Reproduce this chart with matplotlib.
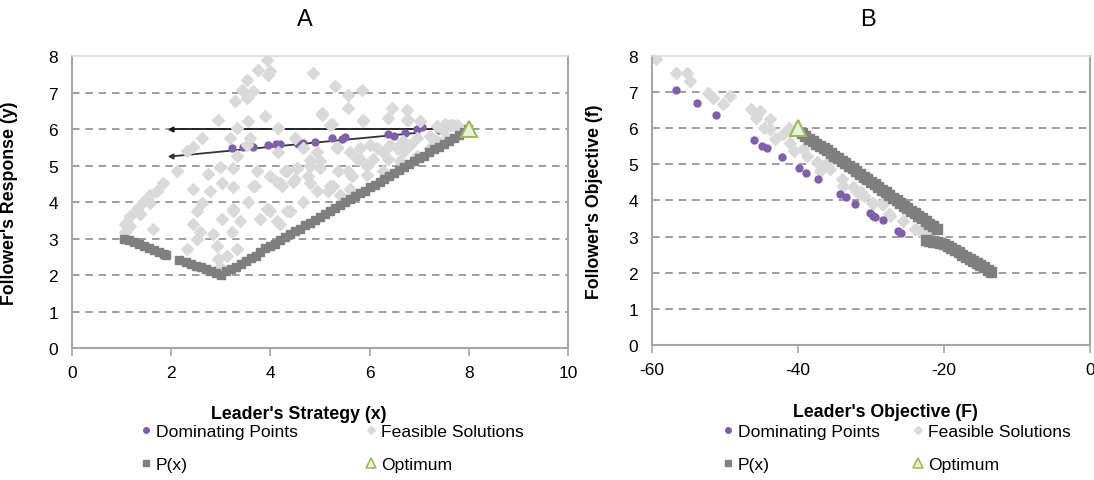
import matplotlib
matplotlib.use("Agg")
import matplotlib.pyplot as plt
from matplotlib.lines import Line2D

plt.rcParams['font.family'] = ['Liberation Sans', 'DejaVu Sans']
plt.rcParams['axes.unicode_minus'] = False

# ---------------- Panel A data ----------------
a_feas_x = [3.93, 3.99, 3.75, 3.53, 3.95, 3.43, 3.65, 3.29, 3.53, 3.89, 2.94, 3.55, 3.33, 4.15, 3.19,
            2.62, 2.44, 2.32, 3.59, 4.50, 3.33, 3.53, 4.15, 2.12, 2.98, 2.74, 3.25, 3.73, 4.29, 1.83,
            1.71, 1.57, 1.43, 1.31, 1.17, 1.07, 2.44, 2.78, 3.02, 3.25, 3.65, 4.13, 2.62, 3.02, 3.25,
            3.39, 3.55, 3.93, 4.33, 1.63, 2.58, 1.57, 1.37, 1.17, 1.07, 2.52, 3.25, 2.44, 2.84, 2.52,
            2.92, 3.23, 3.33, 3.13, 2.94, 2.32, 2.98, 3.99, 4.13, 4.19, 4.40,
            4.86, 5.30, 5.56, 5.85, 5.56, 5.04, 6.45, 6.75, 5.24, 5.87, 6.37, 7.02, 6.77, 7.52, 7.68,
            4.66, 4.94, 4.80, 5.34, 5.81, 6.01, 5.75, 6.07, 6.27, 6.55, 6.81, 6.61, 6.96, 7.22, 7.36,
            7.56, 4.54, 5.00, 5.56, 5.95, 6.27, 5.65, 5.26, 4.80, 4.46, 5.16, 5.60, 5.40,
            5.04, 5.20, 5.87, 6.75, 7.36, 7.62,
            3.99, 4.33, 3.69, 4.23, 4.50, 4.80, 5.00, 5.34, 5.60, 5.81, 6.15, 6.41, 6.67, 6.96, 7.22,
            7.48, 7.76, 5.65, 5.20, 4.94, 4.66, 4.40, 4.19, 3.95, 3.79, 4.76, 5.36, 5.95, 6.37, 6.67]
a_feas_y = [7.88, 7.58, 7.61, 7.34, 7.47, 7.06, 7.03, 6.76, 6.84, 6.35, 6.24, 6.21, 6.02, 6.02, 5.74,
            5.74, 5.52, 5.41, 5.74, 5.74, 5.27, 5.55, 5.38, 4.86, 4.97, 4.78, 4.92, 4.84, 4.84, 4.51,
            4.31, 4.18, 4.01, 3.82, 3.63, 3.41, 4.37, 4.29, 4.51, 4.42, 4.45, 4.56, 3.96, 3.54, 3.74,
            3.49, 4.01, 3.82, 3.74, 3.27, 3.19, 3.96, 3.68, 3.35, 3.19, 3.74, 3.82, 3.41, 3.13, 2.99,
            2.80, 3.19, 2.72, 2.53, 2.45, 2.72, 2.23, 3.74, 3.49, 4.51, 3.76,
            7.53, 7.17, 6.92, 7.06, 6.57, 6.43, 6.57, 6.51, 6.15, 6.24, 6.29, 6.21, 6.24, 6.15, 6.10,
            5.47, 5.38, 5.14, 5.52, 5.47, 5.55, 5.19, 5.19, 5.38, 5.47, 5.55, 5.11, 5.27, 5.47, 5.66,
            5.74, 4.92, 4.92, 4.86, 4.73, 4.84, 4.70, 4.45, 4.51, 4.56, 4.29, 4.37, 4.18,
            6.37, 6.10, 6.21, 6.24, 6.07, 6.10,
            4.70, 4.84, 4.45, 4.45, 4.64, 5.00, 5.11, 5.47, 5.38, 5.19, 5.47, 5.55, 5.66, 5.74, 5.82,
            5.96, 6.10, 4.70, 4.45, 4.29, 4.01, 3.74, 3.41, 3.82, 3.54, 4.70, 4.84, 5.00, 5.19, 5.38]

a_dom_x = [3.22, 3.45, 3.65, 3.95, 4.12, 4.20, 4.55, 4.65, 4.90, 5.25, 5.45, 5.50, 6.38, 6.50,
           6.72, 6.95, 7.05, 7.40]
a_dom_y = [5.48, 5.50, 5.52, 5.55, 5.58, 5.60, 5.58, 5.62, 5.65, 5.75, 5.72, 5.78, 5.85, 5.82,
           5.90, 6.00, 6.05, 5.98]

a_px_x = [1.05, 1.15, 1.25, 1.35, 1.45, 1.55, 1.65, 1.75, 1.85, 1.90, 2.15,
          2.30, 2.40, 2.50, 2.60, 2.70, 2.80, 2.90, 3.00,
          3.10, 3.20, 3.30, 3.40, 3.50, 3.60, 3.70, 3.80, 3.90, 4.00,
          4.10, 4.20, 4.30, 4.40, 4.50, 4.60, 4.70, 4.80, 4.90, 5.00,
          5.10, 5.20, 5.30, 5.40, 5.50, 5.60, 5.70, 5.80, 5.90, 6.00,
          6.10, 6.20, 6.30, 6.40, 6.50, 6.60, 6.70, 6.80, 6.90, 7.00,
          7.10, 7.20, 7.30, 7.40, 7.50, 7.60, 7.70, 7.80, 7.90, 7.98]
a_px_y = [3.00, 2.95, 2.90, 2.85, 2.79, 2.74, 2.69, 2.64, 2.58, 2.55, 2.42,
          2.35, 2.31, 2.26, 2.21, 2.16, 2.10, 2.05, 2.00,
          2.10, 2.16, 2.22, 2.30, 2.38, 2.46, 2.52, 2.62, 2.73, 2.80,
          2.86, 2.95, 3.04, 3.11, 3.20, 3.27, 3.36, 3.43, 3.52, 3.60,
          3.67, 3.76, 3.84, 3.91, 4.00, 4.07, 4.16, 4.24, 4.31, 4.40,
          4.47, 4.56, 4.64, 4.71, 4.80, 4.87, 4.96, 5.04, 5.11, 5.20,
          5.27, 5.36, 5.44, 5.51, 5.60, 5.67, 5.76, 5.84, 5.91, 6.00]

a_line1_x = [2.0, 7.3]
a_line1_y = [6.0, 6.0]
a_line2_x = [2.0, 7.0]
a_line2_y = [5.25, 5.90]

a_opt_x = [8.0]
a_opt_y = [6.0]

# ---------------- Panel B data ----------------
b_dom_x = [-56.7, -53.8, -51.3, -46.0, -44.9, -44.3, -42.2, -39.8, -38.9, -37.3, -34.2, -33.4,
           -32.2, -30.2, -29.7, -29.5, -28.4, -26.3, -25.9]
b_dom_y = [7.05, 6.68, 6.37, 5.67, 5.51, 5.45, 5.21, 4.90, 4.77, 4.59, 4.17, 4.08,
           3.91, 3.65, 3.57, 3.54, 3.45, 3.16, 3.10]

b_feas_x = [-59.5, -56.7, -55.2, -54.8, -52.3, -51.6, -50.3, -49.3, -46.5, -45.2, -45.7, -43.8,
            -44.7, -43.8, -43.2, -41.3, -42.0, -41.1, -40.6, -39.3, -38.8, -37.4, -36.5, -35.8,
            -37.0, -35.6, -34.0, -33.8, -32.4, -31.9, -31.0, -29.9, -28.5, -27.6, -31.3, -29.7,
            -28.3, -27.4, -25.6, -24.0, -23.3, -21.9]
b_feas_y = [7.90, 7.53, 7.51, 7.30, 6.98, 6.84, 6.66, 6.89, 6.52, 6.47, 6.29, 6.24,
            6.01, 5.97, 5.69, 6.01, 5.83, 5.60, 5.37, 5.41, 5.23, 5.05, 4.95, 5.09,
            4.81, 4.86, 4.59, 4.40, 4.36, 4.22, 4.12, 3.94, 3.90, 3.62, 4.22, 3.94,
            3.90, 3.57, 3.43, 3.20, 3.16, 3.07]

b_px_x = [-39.5, -39.0, -38.5, -38.0, -37.5, -37.0, -36.5, -36.0, -35.5, -35.0,
          -34.5, -34.0, -33.5, -33.0, -32.5, -32.0, -31.5, -31.0, -30.5, -30.0,
          -29.5, -29.0, -28.5, -28.0, -27.5, -27.0, -26.5, -26.0, -25.5, -25.0,
          -24.5, -24.0, -23.5, -23.0, -22.5, -22.0, -21.5, -21.0,
          -22.5, -22.0, -21.5, -21.0, -20.5, -20.0, -19.5, -19.0, -18.5, -18.0,
          -17.5, -17.0, -16.5, -16.0, -15.5, -15.0, -14.5, -14.0, -13.5]
b_px_y = [5.85, 5.78, 5.71, 5.64, 5.57, 5.50, 5.44, 5.38, 5.31, 5.24,
          5.17, 5.10, 5.03, 4.96, 4.89, 4.81, 4.74, 4.66, 4.59, 4.51,
          4.44, 4.37, 4.29, 4.22, 4.14, 4.07, 4.00, 3.92, 3.85, 3.78,
          3.71, 3.64, 3.57, 3.50, 3.42, 3.35, 3.28, 3.21,
          2.90, 2.88, 2.86, 2.85, 2.82, 2.78, 2.74, 2.69, 2.63, 2.57,
          2.50, 2.44, 2.38, 2.33, 2.28, 2.22, 2.15, 2.08, 2.01]

b_opt_x = [-40.0]
b_opt_y = [6.0]

# ---------------- styles ----------------
C_DOM = '#7f5fa8'
C_FEAS = '#d9d9d9'
C_PX = '#7f7f7f'
C_OPT_E = '#9bbb59'
C_OPT_F = '#ebf1de'

fig = plt.figure(figsize=(10.94, 4.81), dpi=100)
axA = fig.add_axes([0.0658, 0.2744, 0.4534, 0.6071])
axB = fig.add_axes([0.596, 0.2807, 0.4003, 0.6013])


def style(ax, xlim, xticks, xlabel, ylabel, lx, ly, yx):
    ax.set_xlim(*xlim)
    ax.set_ylim(0, 8)
    ax.set_xticks(xticks)
    ax.set_yticks(range(0, 9))
    for y in range(1, 8):
        ax.axhline(y, color='#8c8c8c', lw=1.2, ls=(0, (4.5, 3.5)), zorder=1)
    for s in ['left', 'bottom', 'right']:
        ax.spines[s].set_color('#a6a6a6')
        ax.spines[s].set_linewidth(1.5)
    ax.spines['top'].set_color('#d9d9d9')
    ax.spines['top'].set_linewidth(1.2)
    ax.tick_params(axis='x', length=6, width=1.2, color='#a6a6a6', labelsize=12.5, pad=6)
    ax.tick_params(axis='y', length=0, labelsize=12.5, pad=10)
    ax.set_xlabel(xlabel, fontsize=12.8, fontweight='bold')
    ax.xaxis.set_label_coords(lx, ly)
    ax.set_ylabel(ylabel, fontsize=12.8, fontweight='bold')
    ax.yaxis.set_label_coords(yx, 0.5)


# Panel A
axA.plot(a_line1_x, a_line1_y, color='#1a1a1a', lw=1.3, zorder=2)
axA.plot(a_line1_x[:1], a_line1_y[:1], marker='<', ms=3.5, color='#1a1a1a', zorder=2)
axA.plot(a_line2_x, a_line2_y, color='#333333', lw=1.3, zorder=2)
axA.plot(a_line2_x[:1], a_line2_y[:1], marker='<', ms=3.5, color='#333333', zorder=2)
axA.plot(a_dom_x, a_dom_y, 'o', color=C_DOM, ms=5, mec=C_DOM, zorder=3)
axA.plot(a_feas_x, a_feas_y, 'D', color=C_FEAS, ms=6.5, mec=C_FEAS, zorder=4)
axA.plot(a_px_x, a_px_y, 's', color=C_PX, ms=6, mec=C_PX, zorder=5)
axA.plot(a_opt_x, a_opt_y, '^', mfc=C_OPT_F, mec=C_OPT_E, mew=1.5, ms=12, zorder=6, clip_on=False)
style(axA, (0, 10), range(0, 11, 2), "Leader's Strategy (x)", "Follower's Response (y)",
      0.458, -0.195, -0.108)
axA.set_title('A', fontsize=17, pad=22, x=0.47)

# Panel B
axB.plot(b_dom_x, b_dom_y, 'o', color=C_DOM, ms=5, mec=C_DOM, zorder=3)
axB.plot(b_feas_x, b_feas_y, 'D', color=C_FEAS, ms=6.5, mec=C_FEAS, zorder=2)
axB.plot(b_px_x, b_px_y, 's', color=C_PX, ms=6.5, mec=C_PX, zorder=5)
axB.plot(b_opt_x, b_opt_y, '^', mfc=C_OPT_F, mec=C_OPT_E, mew=1.5, ms=12, zorder=6)
style(axB, (-60, 0), range(-60, 1, 20), "Leader's Objective (F)", "Follower's Objective (f)",
      0.534, -0.2, -0.112)
axB.set_title('B', fontsize=17, pad=22, x=0.493)

# Legends
def handles():
    return [Line2D([], [], ls='', marker='o', color=C_DOM, ms=4),
            Line2D([], [], ls='', marker='s', color=C_PX, ms=4),
            Line2D([], [], ls='', marker='D', color=C_FEAS, ms=4.5),
            Line2D([], [], ls='', marker='^', mfc=C_OPT_F, mec=C_OPT_E, mew=1.2, ms=7)]

labels = ['Dominating Points', 'P(x)', 'Feasible Solutions', 'Optimum']

fig.legend(handles(), labels, ncol=2, loc='upper left', bbox_to_anchor=(0.129, 0.117),
           frameon=False, fontsize=12.6, handlelength=0.6, handletextpad=0.25,
           columnspacing=3.9, labelspacing=1.0, borderaxespad=0, borderpad=0)
fig.legend(handles(), labels, ncol=2, loc='upper left', bbox_to_anchor=(0.661, 0.117),
           frameon=False, fontsize=12.6, handlelength=0.6, handletextpad=0.25,
           columnspacing=1.9, labelspacing=1.0, borderaxespad=0, borderpad=0)

fig.savefig('out.png', dpi=100)
